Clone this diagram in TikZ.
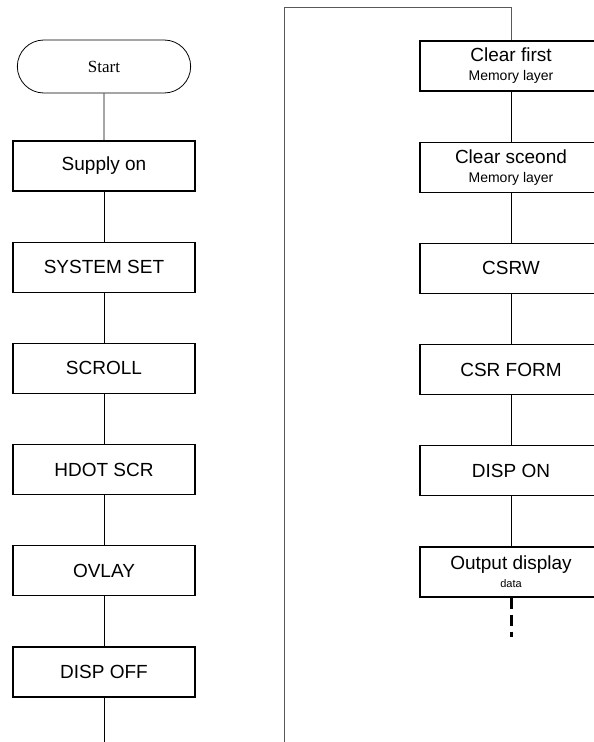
\documentclass[tikz,border=0pt]{standalone}
\usepackage{fontspec}
\setmainfont{Liberation Sans}
\newfontfamily\serifstart{Liberation Serif}
\usetikzlibrary{positioning, shapes.misc}

\begin{document}
\begin{tikzpicture}[
  x=1pt, y=1pt,
  terminal/.style={draw, rounded rectangle, line width=0.8pt, minimum width=180pt, minimum height=53pt, font=\serifstart\fontsize{17}{20}\selectfont},
  stepbox/.style={draw, line width=1.2pt, align=center, minimum width=182pt, minimum height=50pt, font=\fontsize{19}{22}\selectfont},
  link/.style={line width=0.9pt}
]
\useasboundingbox (0,0) rectangle (594,-742);

% left column
\node[terminal] (start) at (104,-66.5) {Start};
\node[stepbox, below=47pt of start] (supply) {Supply on};
\node[stepbox, below=50pt of supply] (sysset) {SYSTEM SET};
\node[stepbox, below=50pt of sysset] (scroll) {SCROLL};
\node[stepbox, below=50pt of scroll] (hdot) {HDOT SCR};
\node[stepbox, below=50pt of hdot] (ovlay) {OVLAY};
\node[stepbox, below=50pt of ovlay] (dispoff) {DISP OFF};
\coordinate (leftend) at (104,-742);

% right column
\node[stepbox] (clearone) at (511,-66) {Clear first\\[-3pt]{\fontsize{14}{16}\selectfont Memory layer}};
\node[stepbox, below=50pt of clearone] (cleartwo) {Clear sceond\\[-3pt]{\fontsize{14}{16}\selectfont Memory layer}};
\node[stepbox, below=50pt of cleartwo] (csrw) {CSRW};
\node[stepbox, below=50pt of csrw] (csrform) {CSR FORM};
\node[stepbox, below=50pt of csrform] (dispon) {DISP ON};
\node[stepbox, below=50pt of dispon] (output) {Output display\\[-4pt]{\fontsize{11}{13}\selectfont data}};
\coordinate (rightend) at (511,-637);

% jump from left to right column
\coordinate (divbot) at (284,-742);
\coordinate (divtop) at (284,-7);

\draw[link] (start) -- (supply);
\draw[link] (supply) -- (sysset);
\draw[link] (sysset) -- (scroll);
\draw[link] (scroll) -- (hdot);
\draw[link] (hdot) -- (ovlay);
\draw[link] (ovlay) -- (dispoff);
\draw[link] (dispoff) -- (leftend);
\draw[link, gray!70!black] (divbot) -- (divtop) -| (clearone);
\draw[link] (clearone) -- (cleartwo);
\draw[link] (cleartwo) -- (csrw);
\draw[link] (csrw) -- (csrform);
\draw[link] (csrform) -- (dispon);
\draw[link] (dispon) -- (output);
\draw[line width=3pt, dash pattern=on 11pt off 6pt] (output) -- (rightend);
\end{tikzpicture}
\end{document}
